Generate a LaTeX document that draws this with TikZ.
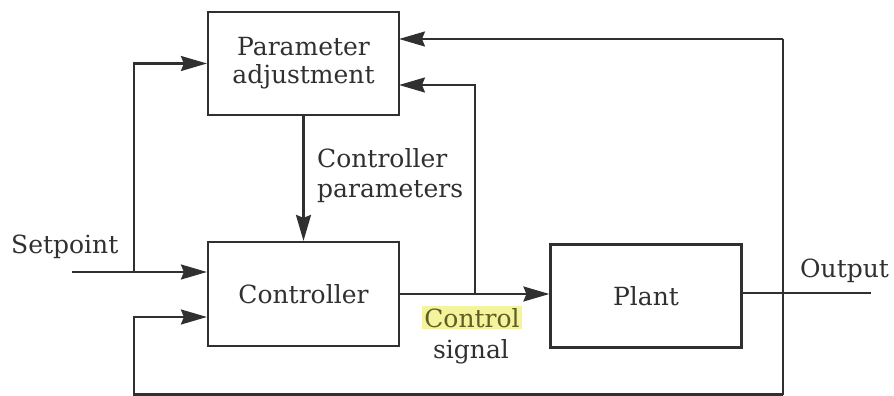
\documentclass[tikz,border=0pt]{standalone}
\usepackage{fontspec}
\setmainfont{DejaVu Serif}
\usetikzlibrary{arrows.meta}
\definecolor{ink}{HTML}{303030}
\definecolor{hl}{HTML}{F4F49C}
\definecolor{hltext}{HTML}{5E5E26}
\begin{document}
\begin{tikzpicture}[x=1pt,y=-1pt,
  every node/.style={font=\fontsize{25}{28}\selectfont, text=ink},
  blockbox/.style={draw=ink, line width=2.2pt, minimum width=191pt, inner sep=0pt, align=center},
  wire/.style={draw=ink, line width=2.2pt},
  arr/.style={wire, -{Stealth[length=26pt,width=15pt,inset=3pt]}},
  lbl/.style={inner sep=0pt, anchor=base west}]
\useasboundingbox (0,0) rectangle (894,396);
% blocks
\node[blockbox, minimum height=103pt] (param) at (303.5,63.5) {Parameter\\adjustment};
\node[blockbox, minimum height=104pt] (ctrl) at (303.5,294) {Controller};
\node[blockbox, minimum height=103pt] (plant) at (646,296) {Plant};
% coordinates
\coordinate (sp) at (72,272);
\coordinate (b1) at (134,272);
\coordinate (fbin) at (134,317);
\coordinate (b2) at (475,294);
\coordinate (b3) at (783,293);
\coordinate (outend) at (871,293);
\coordinate (topr) at (783,39);
\coordinate (botr) at (783,394.5);
\coordinate (botl) at (134,394.5);
\coordinate (pin1) at (399,39);
\coordinate (pin2) at (399,85);
% connectors
\draw[arr] (sp) -- (sp -| ctrl.west);
\draw[arr] (b1) |- (param.west);
\draw[arr] (botr) -- (botl) -- (fbin) -- (fbin -| ctrl.west);
\draw[wire] (topr) -- (botr);
\draw[arr] (topr) -- (pin1);
\draw[arr] (ctrl.east) -- (ctrl.east -| plant.west);
\draw[arr] (b2) |- (pin2);
\draw[wire] (plant.east |- b3) -- (outend);
\draw[arr] (param.south) -- (ctrl.north);
% labels
\node[lbl] (lsp) at (11,253) {Setpoint};
\node[lbl] (lout) at (800,277) {Output};
\node[lbl] (lcp1) at (317,167) {Controller};
\node[lbl] (lcp2) at (317,197) {parameters};
\node[fill=hl, inner sep=2pt, anchor=base, text=hltext] (lcs1) at (472,327) {Control};
\node[inner sep=0pt, anchor=base] (lcs2) at (471,358) {signal};
\end{tikzpicture}
\end{document}
